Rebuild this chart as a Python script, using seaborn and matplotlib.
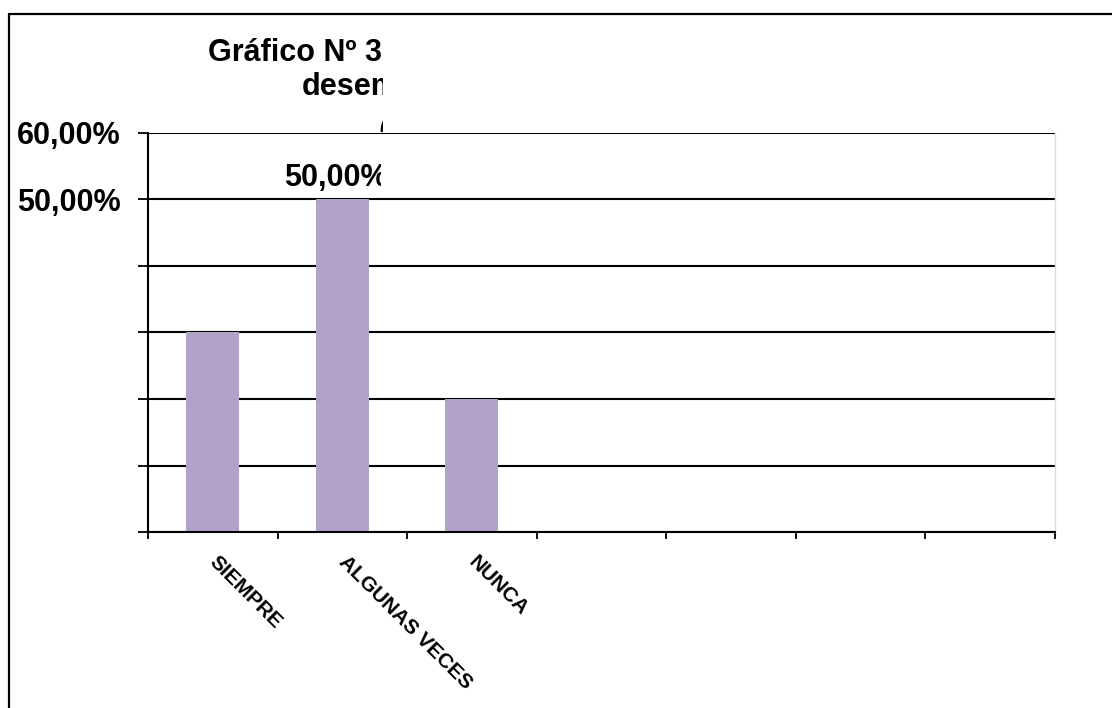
import matplotlib
matplotlib.use("Agg")
import matplotlib.pyplot as plt
from matplotlib.patches import Rectangle
from matplotlib.lines import Line2D
from matplotlib.transforms import ScaledTranslation
import seaborn as sns

# data
categories = ["SIEMPRE", "ALGUNAS VECES", "NUNCA"]
values = [0.30, 0.50, 0.20]
n_slots = 7  # category axis has 7 slots, only 3 used
ytick_values = [0.0, 0.1, 0.2, 0.3, 0.4, 0.5, 0.6]
ytick_labels = ["", "", "", "", "", "50,00%", "60,00%"]
bar_label = "50,00%"
title_lines = ["Gráfico Nº 3", "desempeño", "("]

sns.set_theme(style="white")
plt.rcParams['font.family'] = ['Liberation Sans', 'DejaVu Sans']
plt.rcParams['text.color'] = 'black'
plt.rcParams['xtick.color'] = 'black'
plt.rcParams['ytick.color'] = 'black'

W, H = 1112, 708
fig = plt.figure(figsize=(W / 100, H / 100), dpi=100)
ax = fig.add_axes([148 / W, 1 - 532 / H, (1055 - 148) / W, (532 - 133) / H])

sns.barplot(x=categories, y=values, color="#b1a3c8", width=0.41,
            saturation=1, linewidth=0, ax=ax)

ax.set_xlim(-0.5, n_slots - 0.5)
ax.set_ylim(0, 0.6)

# gridlines
ax.set_axisbelow(True)
ax.yaxis.grid(True, color="black", linewidth=1.5)
ax.xaxis.grid(False)

# y axis
ax.set_yticks(ytick_values)
ax.set_yticklabels(ytick_labels, fontsize=22, fontweight="bold")
ax.tick_params(axis="y", direction="out", length=7, width=1.3, color="black",
               pad=13, left=True)

# x axis: ticks on slot boundaries, labels at slot centres
ax.set_xticks([i - 0.5 for i in range(n_slots + 1)])
ax.set_xticklabels([])
ax.set_xticks(range(len(categories)), minor=True)
ax.set_xticklabels(categories, minor=True, rotation=-45, ha="left", va="top",
                   rotation_mode="anchor", fontsize=15, fontweight="bold")
ax.tick_params(axis="x", which="major", direction="out", length=5, width=1.3,
               color="black", bottom=True)
ax.tick_params(axis="x", which="minor", length=0, pad=15)
shift = ScaledTranslation(6 / 100, 0, fig.dpi_scale_trans)
for lab in ax.get_xticklabels(minor=True):
    lab.set_transform(lab.get_transform() + shift)
ax.set_xlabel("")
ax.set_ylabel("")

for side in ["left", "bottom"]:
    ax.spines[side].set_color("black")
    ax.spines[side].set_linewidth(1.5)
ax.spines["top"].set_visible(False)
ax.spines["right"].set_color("#dddddd")
ax.spines["right"].set_linewidth(1)

# clip region for the cut-off title and label
clip = Rectangle((0, 0), 381 / W, 1, transform=fig.transFigure)
clip_title = Rectangle((0, 1 - 132 / H), 383 / W, 132 / H,
                       transform=fig.transFigure)

# data label over the middle bar (cut off in the original)
t = ax.annotate(bar_label, (1, values[1]), xytext=(-5, 5),
                textcoords="offset points", ha="center", va="bottom",
                fontsize=22, fontweight="bold", annotation_clip=False)
t.set_clip_on(True)
t.set_clip_path(clip)

# title lines (cut off in the original)
t1 = fig.text(208 / W, 1 - 61 / H, title_lines[0], ha="left", va="baseline",
              fontsize=22, fontweight="bold")
t2 = fig.text(302 / W, 1 - 95 / H, title_lines[1], ha="left", va="baseline",
              fontsize=22, fontweight="bold")
t3 = fig.text(379 / W, 1 - 140 / H, title_lines[2], ha="left", va="baseline",
              fontsize=22, fontweight="bold")
for tt in (t1, t2, t3):
    tt.set_clip_path(clip_title)

# outer chart border (left and top edges visible)
fig.add_artist(Line2D([9 / W, 9 / W], [0, 1 - 14 / H], color="black",
                      linewidth=1.6, transform=fig.transFigure))
fig.add_artist(Line2D([9 / W, 1], [1 - 14 / H, 1 - 14 / H], color="black",
                      linewidth=1.6, transform=fig.transFigure))

fig.savefig("out.png", dpi=100, facecolor="white")
